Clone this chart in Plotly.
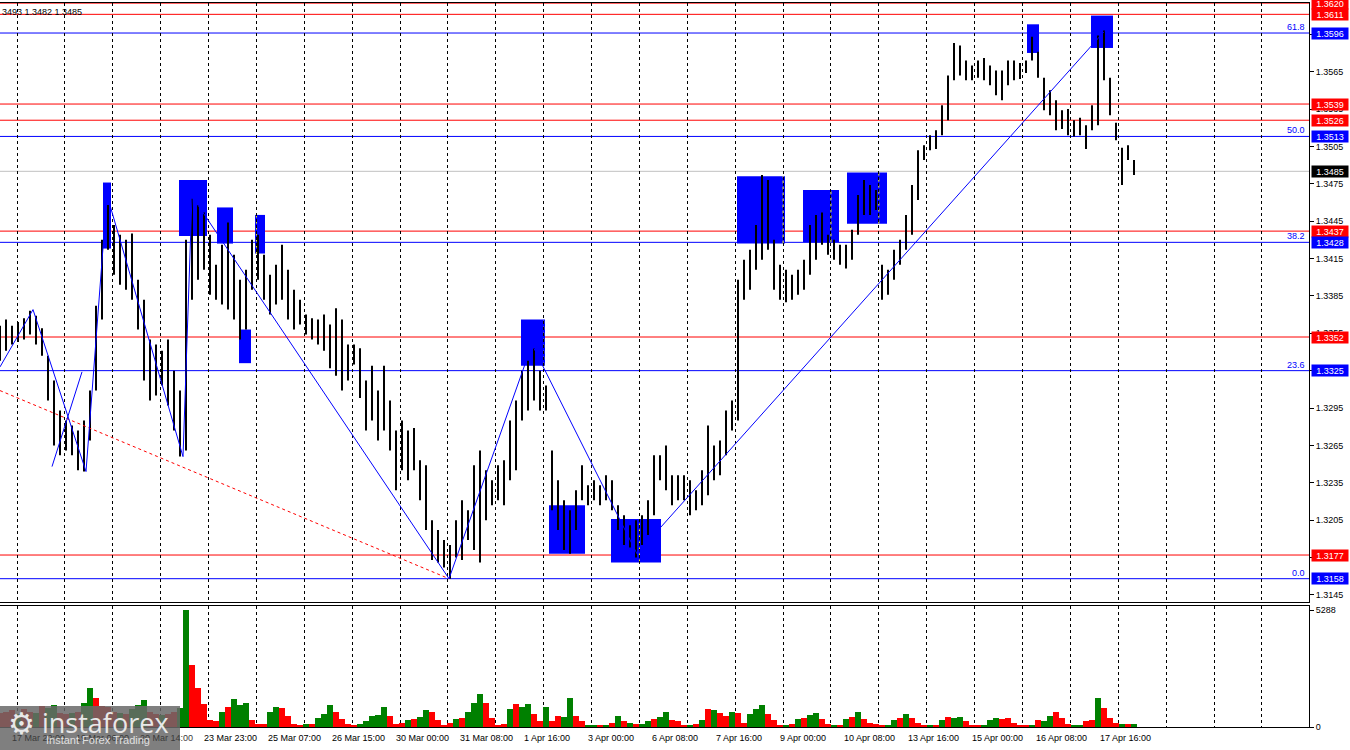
import plotly.graph_objects as go

# ---------------- data ----------------
# one stick every 3 hours, index 0 = left edge of the chart
bar_high = [1.3361, 1.3366, 1.3361, 1.3364, 1.3367, 1.3373, 1.3369, 1.3359, 1.3337, 1.3317,
            1.3293, 1.3285, 1.3281, 1.3277, 1.3285, 1.3309, 1.3377, 1.3430, 1.3458, 1.3442,
            1.3434, 1.3430, 1.3435, 1.3398, 1.3382, 1.3350, 1.3346, 1.3341, 1.3350, 1.3325,
            1.3309, 1.3430, 1.3463, 1.3458, 1.3452, 1.3434, 1.3410, 1.3426, 1.3444, 1.3418,
            1.3398, 1.3406, 1.3430, 1.3434, 1.3418, 1.3402, 1.3410, 1.3426, 1.3406, 1.3390,
            1.3382, 1.3370, 1.3367, 1.3366, 1.3370, 1.3362, 1.3375, 1.3366, 1.3346, 1.3346,
            1.3343, 1.3317, 1.3329, 1.3309, 1.3329, 1.3301, 1.3277, 1.3285, 1.3277, 1.3279,
            1.3253, 1.3249, 1.3205, 1.3197, 1.3189, 1.3185, 1.3205, 1.3221, 1.3213, 1.3249,
            1.3261, 1.3245, 1.3237, 1.3249, 1.3253, 1.3285, 1.3301, 1.3325, 1.3333, 1.3343,
            1.3325, 1.3313, 1.3261, 1.3237, 1.3221, 1.3213, 1.3229, 1.3249, 1.3233, 1.3237,
            1.3233, 1.3241, 1.3237, 1.3217, 1.3209, 1.3201, 1.3205, 1.3209, 1.3221, 1.3257,
            1.3257, 1.3265, 1.3241, 1.3241, 1.3241, 1.3237, 1.3229, 1.3245, 1.3281, 1.3265,
            1.3269, 1.3293, 1.3301, 1.3398, 1.3414, 1.3422, 1.3442, 1.3482, 1.3478, 1.3430,
            1.3410, 1.3406, 1.3402, 1.3406, 1.3414, 1.3442, 1.3450, 1.3452, 1.3434, 1.3430,
            1.3426, 1.3426, 1.3438, 1.3466, 1.3478, 1.3474, 1.3470, 1.3410, 1.3406, 1.3422,
            1.3430, 1.3450, 1.3474, 1.3502, 1.3506, 1.3514, 1.3518, 1.3538, 1.3562, 1.3588,
            1.3586, 1.3574, 1.3570, 1.3574, 1.3576, 1.3570, 1.3566, 1.3566, 1.3574, 1.3574,
            1.3572, 1.3574, 1.3593, 1.3581, 1.3560, 1.3550, 1.3542, 1.3534, 1.3535, 1.3526,
            1.3528, 1.3522, 1.3538, 1.3594, 1.3598, 1.3560, 1.3524, 1.3504, 1.3506, 1.3494]
bar_low = [1.3333, 1.3341, 1.3346, 1.3348, 1.3350, 1.3354, 1.3346, 1.3337, 1.3301, 1.3265,
           1.3257, 1.3261, 1.3257, 1.3245, 1.3244, 1.3269, 1.3309, 1.3366, 1.3422, 1.3402,
           1.3394, 1.3390, 1.3382, 1.3358, 1.3317, 1.3301, 1.3305, 1.3313, 1.3297, 1.3277,
           1.3256, 1.3261, 1.3382, 1.3398, 1.3406, 1.3386, 1.3382, 1.3378, 1.3374, 1.3366,
           1.3350, 1.3358, 1.3390, 1.3398, 1.3382, 1.3370, 1.3378, 1.3382, 1.3366, 1.3358,
           1.3362, 1.3354, 1.3350, 1.3346, 1.3341, 1.3327, 1.3321, 1.3309, 1.3317, 1.3330,
           1.3303, 1.3277, 1.3285, 1.3269, 1.3277, 1.3261, 1.3229, 1.3245, 1.3237, 1.3245,
           1.3221, 1.3197, 1.3173, 1.3171, 1.3167, 1.3158, 1.3175, 1.3173, 1.3189, 1.3181,
           1.3171, 1.3205, 1.3217, 1.3221, 1.3217, 1.3237, 1.3245, 1.3285, 1.3293, 1.3301,
           1.3293, 1.3293, 1.3213, 1.3197, 1.3181, 1.3178, 1.3197, 1.3221, 1.3217, 1.3221,
           1.3217, 1.3221, 1.3213, 1.3197, 1.3185, 1.3183, 1.3175, 1.3185, 1.3193, 1.3209,
           1.3237, 1.3229, 1.3217, 1.3221, 1.3221, 1.3209, 1.3213, 1.3217, 1.3225, 1.3237,
           1.3241, 1.3257, 1.3277, 1.3285, 1.3382, 1.3390, 1.3406, 1.3414, 1.3422, 1.3390,
           1.3382, 1.3380, 1.3382, 1.3386, 1.3390, 1.3402, 1.3414, 1.3426, 1.3418, 1.3414,
           1.3410, 1.3407, 1.3414, 1.3434, 1.3450, 1.3450, 1.3454, 1.3382, 1.3386, 1.3398,
           1.3410, 1.3422, 1.3434, 1.3462, 1.3494, 1.3502, 1.3503, 1.3514, 1.3526, 1.3558,
           1.3562, 1.3558, 1.3558, 1.3560, 1.3558, 1.3554, 1.3546, 1.3542, 1.3554, 1.3558,
           1.3559, 1.3564, 1.3574, 1.3560, 1.3534, 1.3530, 1.3518, 1.3519, 1.3514, 1.3513,
           1.3514, 1.3503, 1.3518, 1.3522, 1.3558, 1.3530, 1.3510, 1.3474, 1.3494, 1.3482]
bar_volume = [650, 700, 750, 600, 800, 700, 650, 950, 850, 1000,
              650, 600, 650, 700, 1100, 1780, 1300, 950, 900, 700,
              650, 600, 800, 1000, 1200, 700, 600, 550, 600, 700,
              870, 5288, 2795, 1780, 1060, 300, 250, 700, 900, 1250,
              1000, 1100, 300, 150, 150, 700, 900, 850, 500, 150,
              100, 120, 150, 400, 600, 1000, 700, 350, 150, 100,
              150, 250, 500, 550, 900, 500, 150, 200, 300, 350,
              450, 750, 700, 300, 80, 200, 350, 400, 700, 1100,
              1500, 1100, 400, 100, 150, 800, 1050, 900, 1050, 600,
              250, 900, 250, 500, 450, 1300, 500, 250, 70, 60,
              80, 100, 200, 500, 250, 200, 120, 150, 250, 350,
              450, 700, 300, 250, 100, 80, 120, 300, 800, 750,
              650, 500, 700, 650, 200, 600, 800, 1000, 600, 300,
              100, 80, 120, 350, 400, 550, 650, 350, 150, 80,
              100, 350, 450, 700, 350, 200, 120, 100, 100, 300,
              400, 600, 400, 200, 50, 50, 60, 300, 450, 400,
              450, 250, 100, 60, 60, 300, 400, 380, 400, 200,
              100, 60, 80, 300, 250, 500, 700, 400, 150, 60,
              60, 250, 300, 1300, 850, 400, 200, 150, 150, 150]
# colour of each volume bar as seen in the reference: G = green (up), R = red (down)
volume_dir = ("RRRGRRGRGG" "RRGRGGRRRR" "GRGGGRRGRR" "GGRRRRRGRG"
              "GGRRRGGRRR" "RGRGGGRRRR" "GGGGGRRRGR" "GGRRRRGRGG"
              "GRRRRGRGGR" "RGRRGGRRGG" "RGRGRGRGGR" "GGRRRGRGRG"
              "RRGRRGGGRR" "RGRGRGGRRG" "RGRGRRRRGG" "RGRRRGRGRG"
              "GRRRGGGRRR" "RRGRGGRRRG" "GRRGRRRGRG")
BAR_STEP_HOURS = 3

red_levels = [1.3620, 1.3611, 1.3539, 1.3526, 1.3437, 1.3352, 1.3177]
blue_levels = [1.3596, 1.3513, 1.3428, 1.3325, 1.3158]
fib_labels = ["61.8", "50.0", "38.2", "23.6", "0.0"]
last_price = 1.3485

# zone rectangles (hours from left edge, prices)
zone_start = [51.5, 89.5, 108.5, 119.5, 127.5, 260.5, 274.5, 305.5, 368.5, 401.5, 423.5, 513.5, 545.5]
zone_end = [55.5, 103.5, 116.5, 125.5, 132.5, 272.5, 292.5, 330.5, 392.5, 419.5, 443.5, 519.5, 556.5]
zone_top = [1.3476, 1.3478, 1.3456, 1.3358, 1.3450, 1.3366, 1.3217, 1.3206, 1.3481, 1.3470, 1.3484, 1.3603, 1.3610]
zone_bottom = [1.3423, 1.3433, 1.3427, 1.3331, 1.3419, 1.3329, 1.3178, 1.3171, 1.3427, 1.3428, 1.3443, 1.3580, 1.3584]

# zigzag and trend lines
zig_hours = [0, 16.5, 43, 53.5, 91.5, 96, 224.5, 266, 318.5, 552]
zig_prices = [1.3328, 1.3374, 1.3244, 1.3466, 1.3256, 1.3465, 1.3158, 1.3346, 1.3178, 1.3597]
cross_hours = [26, 41]
cross_prices = [1.3248, 1.3324]
trend_hours = [0, 224.5]
trend_prices = [1.3309, 1.3158]

time_labels = ["16 Mar 14:00", "17 Mar 22:00", "19 Mar 06:00", "20 Mar 14:00", "23 Mar 23:00",
               "25 Mar 07:00", "26 Mar 15:00", "30 Mar 00:00", "31 Mar 08:00", "1 Apr 16:00",
               "3 Apr 00:00", "6 Apr 08:00", "7 Apr 16:00", "9 Apr 00:00", "10 Apr 08:00",
               "13 Apr 16:00", "15 Apr 00:00", "16 Apr 08:00", "17 Apr 16:00"]
time_label_hours = [-26, 6, 38, 70, 102, 134, 166, 198, 230, 262, 294, 326, 358, 390, 422,
                    454, 486, 518, 550]
volume_max_label = 5288
header_text = "3493 1.3482 1.3485"

# ---------------- figure ----------------
FONT = "Liberation Sans, Arial, sans-serif"
RED = "#ff0000"
BLUE = "#0000ff"
GRID0, GRID_STEP = 8.5, 23.94
hours = [i * BAR_STEP_HOURS for i in range(len(bar_high))]

fig = go.Figure()

shapes = []
for lv in red_levels:
    shapes.append(dict(type="line", xref="x domain", x0=0, x1=1, yref="y", y0=lv, y1=lv,
                       line=dict(color=RED, width=1), layer="below"))
for lv in blue_levels:
    shapes.append(dict(type="line", xref="x domain", x0=0, x1=1, yref="y", y0=lv, y1=lv,
                       line=dict(color=BLUE, width=1), layer="below"))
shapes.append(dict(type="line", xref="x domain", x0=0, x1=1, yref="y", y0=last_price, y1=last_price,
                   line=dict(color="#c0c0c0", width=1), layer="below"))
for a, b, t, btm in zip(zone_start, zone_end, zone_top, zone_bottom):
    shapes.append(dict(type="rect", xref="x", yref="y", x0=a, x1=b, y0=btm, y1=t,
                       fillcolor=BLUE, line=dict(width=0), layer="below"))
    # grid lines show through the zones in yellow
    k = 0
    while GRID0 + k * GRID_STEP <= b:
        gx = GRID0 + k * GRID_STEP
        if gx >= a:
            shapes.append(dict(type="line", xref="x", yref="y", x0=gx, x1=gx, y0=btm, y1=t,
                               line=dict(color="#ffff00", width=1, dash="3px,3px"), layer="below"))
        k += 1

# logo watermark
shapes.append(dict(type="rect", xref="paper", yref="paper", x0=0, x1=180 / 1309,
                   y0=-23 / 724, y1=21 / 724, fillcolor="rgba(105,105,105,0.85)",
                   line=dict(width=0), layer="above"))

# price sticks
sx, sy = [], []
for h, hi, lo in zip(hours, bar_high, bar_low):
    sx += [h, h, None]
    sy += [lo, hi, None]
fig.add_trace(go.Scatter(x=sx, y=sy, mode="lines", line=dict(color="black", width=2),
                         hoverinfo="skip", showlegend=False, xaxis="x", yaxis="y"))

fig.add_trace(go.Scatter(x=trend_hours, y=trend_prices, mode="lines",
                         line=dict(color=RED, width=1, dash="3px,3px"),
                         showlegend=False, xaxis="x", yaxis="y"))
fig.add_trace(go.Scatter(x=zig_hours, y=zig_prices, mode="lines",
                         line=dict(color=BLUE, width=1), showlegend=False, xaxis="x", yaxis="y"))
fig.add_trace(go.Scatter(x=cross_hours, y=cross_prices, mode="lines",
                         line=dict(color=BLUE, width=1), showlegend=False, xaxis="x", yaxis="y"))

# volume
vcolors = ["#008000" if d == "G" else RED for d in volume_dir]
fig.add_trace(go.Bar(x=hours, y=bar_volume, width=2.6, marker=dict(color=vcolors, line=dict(width=0)),
                     showlegend=False, xaxis="x2", yaxis="y2"))

ann = []
for lv, lab in zip(blue_levels, fib_labels):
    ann.append(dict(xref="paper", x=1, xanchor="right", xshift=-2, yref="y", y=lv, yanchor="bottom",
                    yshift=-1, text=lab, showarrow=False, font=dict(family=FONT, size=9, color=BLUE)))
for lv in red_levels:
    ann.append(dict(xref="paper", x=1, xanchor="left", xshift=2, yref="y", y=lv, yanchor="middle",
                    text=f"{lv:.4f}", showarrow=False, bgcolor=RED, width=36, height=11, borderpad=0,
                    font=dict(family=FONT, size=9, color="white")))
for lv in blue_levels:
    ann.append(dict(xref="paper", x=1, xanchor="left", xshift=2, yref="y", y=lv, yanchor="middle",
                    text=f"{lv:.4f}", showarrow=False, bgcolor=BLUE, width=36, height=11, borderpad=0,
                    font=dict(family=FONT, size=9, color="white")))
ann.append(dict(xref="paper", x=1, xanchor="left", xshift=2, yref="y", y=last_price, yanchor="middle",
                text=f"{last_price:.4f}", showarrow=False, bgcolor="black", width=36, height=11,
                borderpad=0, font=dict(family=FONT, size=9, color="white")))
ann.append(dict(xref="paper", x=0, xanchor="left", yref="paper", y=1, yanchor="top", yshift=-2,
                text=header_text, showarrow=False, font=dict(family=FONT, size=9, color="black")))
for h, lab in zip(time_label_hours, time_labels):
    under_logo = h < 90
    ann.append(dict(xref="x", x=h, xanchor="left", xshift=-2, yref="paper", y=0, yanchor="top",
                    yshift=-4, text=lab, showarrow=False,
                    font=dict(family=FONT, size=9, color="#3a3a3a" if under_logo else "black")))
# logo texts
ann.append(dict(xref="paper", x=6 / 1309, xanchor="left", yref="paper", y=4 / 724, yanchor="middle",
                text="⚙", showarrow=False, font=dict(family="DejaVu Sans", size=30, color="#e8e8e8")))
ann.append(dict(xref="paper", x=40 / 1309, xanchor="left", yref="paper", y=5 / 724, yanchor="middle",
                text="instaforex", showarrow=False,
                font=dict(family="Open Sans, DejaVu Sans", size=27, color="#e8e8e8")))
ann.append(dict(xref="paper", x=44 / 1309, xanchor="left", yref="paper", y=-13 / 724, yanchor="middle",
                text="Instant Forex Trading", showarrow=False,
                font=dict(family=FONT, size=11, color="#e0e0e0")))

grid = dict(showgrid=True, gridcolor="black", gridwidth=1, griddash="3px,3px",
            tick0=GRID0, dtick=GRID_STEP, showticklabels=False, ticks="", zeroline=False,
            showline=True, linecolor="black", linewidth=1, mirror=True)

fig.update_layout(
    width=1350, height=750,
    margin=dict(l=0, r=41, t=3, b=23),
    paper_bgcolor="white", plot_bgcolor="white",
    font=dict(family=FONT, size=9, color="black"),
    showlegend=False, bargap=0,
    xaxis=dict(domain=[0, 1], anchor="y", range=[0, 654.5], **grid),
    xaxis2=dict(domain=[0, 1], anchor="y2", matches="x", range=[0, 654.5], **grid),
    yaxis=dict(domain=[125 / 724, 1], range=[1.31393, 1.36201], side="right", showgrid=False,
               tick0=1.3145, dtick=0.003, tickformat=".4f", ticks="outside", ticklen=4,
               tickcolor="black", showline=True, linecolor="black", zeroline=False,
               tickfont=dict(family=FONT, size=9, color="black")),
    yaxis2=dict(domain=[0, 121 / 724], range=[0, 5470], side="right", showgrid=False,
                tickvals=[0, volume_max_label], ticktext=["0", str(volume_max_label)],
                ticks="outside", ticklen=4, tickcolor="black", showline=True, linecolor="black",
                zeroline=False, tickfont=dict(family=FONT, size=9, color="black")),
    shapes=shapes,
    annotations=ann,
)

fig.write_html("out.html", config={"displayModeBar": False},
               post_script="document.body.style.margin='0';document.body.style.overflow='hidden';")
